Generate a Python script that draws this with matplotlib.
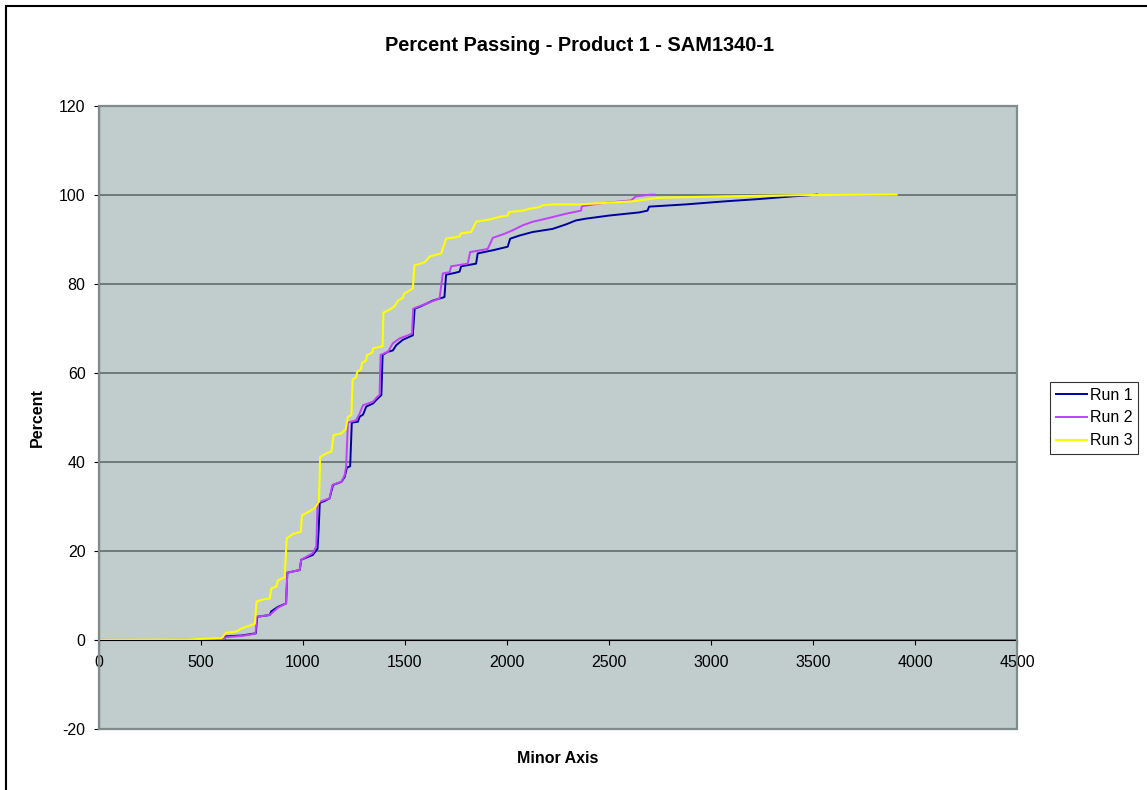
import matplotlib.pyplot as plt
from matplotlib.patches import Rectangle

# cumulative percent passing vs minor axis
run1_x = [0, 300, 500, 615, 620, 700, 770, 776, 838, 845, 877, 918, 924, 985, 992,
          1049, 1072, 1078, 1083, 1107, 1131, 1148, 1189, 1205, 1216, 1232, 1240,
          1270, 1278, 1295, 1311, 1344, 1360, 1385, 1391, 1417, 1441, 1458, 1490,
          1539, 1548, 1572, 1605, 1637, 1694, 1702, 1743, 1768, 1776, 1849, 1857,
          1931, 2004, 2016, 2061, 2126, 2224, 2289, 2338, 2387, 2501, 2648, 2689,
          2697, 2876, 3072, 3235, 3398, 3496, 3520]
run1_y = [0, 0, 0.05, 0.1, 0.8, 1.0, 1.5, 5.2, 5.6, 6.4, 7.4, 8.2, 15.1, 15.7, 18.0,
          19.1, 20.5, 25.0, 30.8, 31.2, 31.8, 34.8, 35.5, 36.6, 38.7, 39.0, 48.8,
          49.0, 50.1, 50.6, 52.4, 53.1, 53.9, 55.0, 64.0, 64.7, 65.0, 66.2, 67.4,
          68.4, 74.4, 74.8, 75.5, 76.2, 77.0, 82.0, 82.4, 82.7, 83.9, 84.5, 86.8,
          87.5, 88.3, 90.1, 90.8, 91.6, 92.3, 93.3, 94.2, 94.6, 95.3, 96.0, 96.4,
          97.3, 97.8, 98.5, 99.0, 99.6, 99.9, 100]

run2_x = [0, 400, 545, 615, 620, 700, 768, 774, 838, 877, 918, 924, 985, 992, 1049,
          1066, 1072, 1100, 1131, 1145, 1189, 1205, 1212, 1221, 1260, 1275, 1295,
          1344, 1365, 1376, 1381, 1417, 1441, 1474, 1515, 1535, 1541, 1605, 1670,
          1686, 1720, 1727, 1808, 1820, 1906, 1931, 1988, 2029, 2077, 2126, 2192,
          2289, 2363, 2368, 2469, 2608, 2632, 2706, 2723]
run2_y = [0, 0, 0.05, 0.2, 0.6, 0.9, 1.4, 5.2, 5.6, 7.2, 8.2, 15.1, 15.7, 18.0, 19.5,
          21.0, 30.8, 31.3, 31.8, 34.8, 35.5, 37.0, 38.8, 48.8, 49.3, 50.5, 52.7,
          53.5, 54.6, 55.0, 64.0, 64.7, 66.6, 67.7, 68.4, 68.8, 74.4, 75.5, 76.7,
          82.3, 82.6, 83.9, 84.5, 87.1, 87.8, 90.3, 91.2, 92.0, 93.1, 93.9, 94.6,
          95.7, 96.4, 97.4, 98.1, 98.7, 99.6, 100, 100]

run3_x = [0, 430, 602, 623, 675, 700, 732, 765, 773, 805, 838, 846, 871, 876, 911,
          921, 952, 990, 996, 1021, 1058, 1079, 1085, 1115, 1140, 1151, 1189, 1210,
          1221, 1238, 1244, 1262, 1266, 1285, 1290, 1310, 1315, 1340, 1345, 1376,
          1391, 1395, 1425, 1450, 1466, 1490, 1495, 1539, 1547, 1597, 1621, 1678,
          1702, 1768, 1775, 1825, 1849, 1914, 1963, 2004, 2010, 2077, 2110, 2159,
          2175, 2224, 2355, 2616, 2746, 3072, 3480, 3910]
run3_y = [0, 0.1, 0.4, 1.6, 1.9, 2.6, 3.1, 3.6, 8.6, 9.1, 9.3, 11.6, 12.0, 13.3, 14.1,
          22.8, 23.8, 24.3, 28.0, 28.6, 29.6, 31.1, 41.1, 41.9, 42.3, 46.0, 46.4, 47.3,
          50.1, 50.5, 58.5, 59.0, 60.2, 60.8, 62.2, 62.8, 64.0, 64.5, 65.5, 65.8,
          66.0, 73.5, 74.2, 74.9, 76.2, 76.8, 77.7, 78.9, 84.1, 84.8, 86.1, 86.8,
          90.1, 90.6, 91.3, 91.6, 93.9, 94.4, 95.0, 95.3, 96.1, 96.4, 96.8, 97.2,
          97.6, 97.8, 97.8, 98.5, 99.3, 99.6, 99.9, 100]

x_ticks = [0, 500, 1000, 1500, 2000, 2500, 3000, 3500, 4000, 4500]
y_ticks = [-20, 0, 20, 40, 60, 80, 100, 120]

plt.rcParams['font.family'] = ['Liberation Sans', 'DejaVu Sans']
plt.rcParams['axes.unicode_minus'] = False

fig = plt.figure(figsize=(11.47, 7.9), dpi=100)
ax = fig.add_axes([0.0861, 0.0772, 0.8006, 0.7892])
ax.set_facecolor('#C0CDCC')

l1, = ax.plot(run1_x, run1_y, color='#0000A0', lw=1.4, label='Run 1')
l2, = ax.plot(run2_x, run2_y, color='#C040FF', lw=1.4, label='Run 2')
l3, = ax.plot(run3_x, run3_y, color='#FFFF00', lw=1.5, label='Run 3')

ax.set_xlim(0, 4500)
ax.set_ylim(-20, 120)
ax.set_xticks(x_ticks)
ax.set_yticks(y_ticks)
ax.tick_params(labelsize=11.5, colors='black', length=3.5, width=0.8)
ax.tick_params(axis='y', pad=6)
ax.tick_params(axis='x', pad=7)

ax.yaxis.grid(True, color='#5A6262', lw=1.1)
ax.set_axisbelow(True)

for s in ['top', 'right']:
    ax.spines[s].set_visible(False)
ax.spines['left'].set_color('black')
ax.spines['left'].set_linewidth(0.8)
ax.spines['bottom'].set_position(('data', 0))
ax.spines['bottom'].set_color('black')
ax.spines['bottom'].set_linewidth(0.8)

ax.add_patch(Rectangle((0, 0), 1, 1, transform=ax.transAxes, fill=False,
                       edgecolor='#7F8C8C', lw=1.6, clip_on=False, zorder=5))

fig.text(0.505, 0.942, 'Percent Passing - Product 1 - SAM1340-1',
         ha='center', va='center', fontsize=14.4, fontweight='bold')
fig.text(0.486, 0.0405, 'Minor Axis', ha='center', va='center',
         fontsize=11.5, fontweight='bold')
fig.text(0.033, 0.472, 'Percent', ha='center', va='center', rotation=90,
         fontsize=11.5, fontweight='bold')

leg = fig.legend(handles=[l1, l2, l3], loc='center',
                 bbox_to_anchor=(0.9538, 0.4709), fontsize=11.5,
                 frameon=True, fancybox=False, edgecolor='black',
                 handlelength=2.0, handletextpad=0.15, labelspacing=0.5,
                 borderpad=0.35, borderaxespad=0)
leg.get_frame().set_linewidth(0.8)

# outer chart border (only left and top edges fall inside the image)
fig.add_artist(Rectangle((5.5 / 1147, -0.1), 1.2, 1.1 - 5.5 / 790,
                         transform=fig.transFigure, fill=False,
                         edgecolor='black', lw=1.5))

fig.savefig('out.png', dpi=100, facecolor='white')
